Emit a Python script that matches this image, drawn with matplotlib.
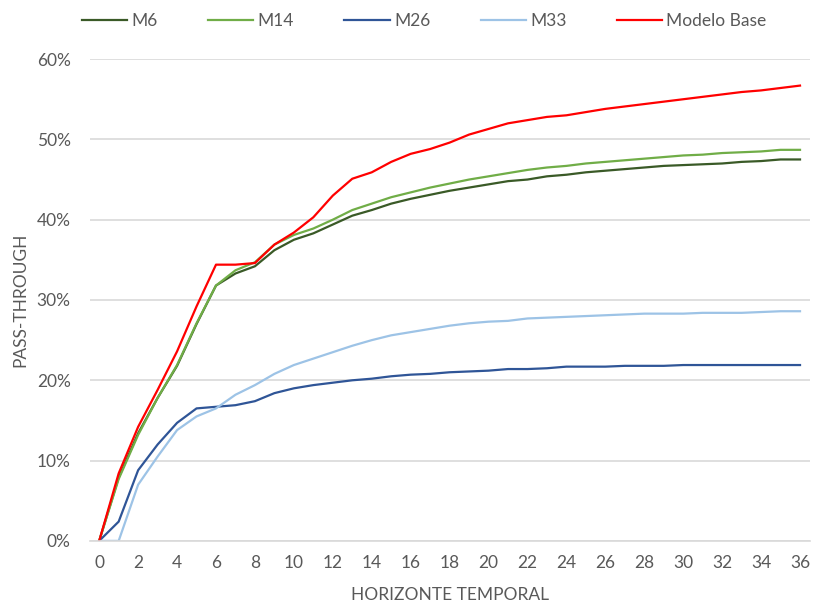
import numpy as np
import matplotlib.pyplot as plt
from matplotlib.ticker import FuncFormatter, MultipleLocator

# horizonte temporal (meses) e pass-through acumulado por modelo
horizonte = list(range(0, 37))

m6 = [0.0, 7.9, 13.4, 17.8, 21.8, 27.0, 31.8, 33.3, 34.2, 36.2, 37.5, 38.3, 39.4,
      40.5, 41.2, 42.0, 42.6, 43.1, 43.6, 44.0, 44.4, 44.8, 45.0, 45.4, 45.6, 45.9,
      46.1, 46.3, 46.5, 46.7, 46.8, 46.9, 47.0, 47.2, 47.3, 47.5, 47.5]

m14 = [0.0, 7.7, 13.2, 17.8, 21.9, 27.1, 31.8, 33.7, 34.7, 36.9, 38.1, 38.9, 40.0,
       41.2, 42.0, 42.8, 43.4, 44.0, 44.5, 45.0, 45.4, 45.8, 46.2, 46.5, 46.7, 47.0,
       47.2, 47.4, 47.6, 47.8, 48.0, 48.1, 48.3, 48.4, 48.5, 48.7, 48.7]

m26 = [0.0, 2.4, 8.8, 12.0, 14.7, 16.5, 16.7, 16.9, 17.4, 18.4, 19.0, 19.4, 19.7,
       20.0, 20.2, 20.5, 20.7, 20.8, 21.0, 21.1, 21.2, 21.4, 21.4, 21.5, 21.7, 21.7,
       21.7, 21.8, 21.8, 21.8, 21.9, 21.9, 21.9, 21.9, 21.9, 21.9, 21.9]

m33 = [0.0, 0.0, 7.0, 10.5, 13.8, 15.5, 16.5, 18.2, 19.4, 20.8, 21.9, 22.7, 23.5,
       24.3, 25.0, 25.6, 26.0, 26.4, 26.8, 27.1, 27.3, 27.4, 27.7, 27.8, 27.9, 28.0,
       28.1, 28.2, 28.3, 28.3, 28.3, 28.4, 28.4, 28.4, 28.5, 28.6, 28.6]

modelo_base = [0.0, 8.4, 14.2, 18.8, 23.6, 29.2, 34.4, 34.4, 34.6, 36.9, 38.4, 40.3, 43.0,
               45.1, 45.9, 47.2, 48.2, 48.8, 49.6, 50.6, 51.3, 52.0, 52.4, 52.8, 53.0, 53.4,
               53.8, 54.1, 54.4, 54.7, 55.0, 55.3, 55.6, 55.9, 56.1, 56.4, 56.7]

series = [("M6", m6, "#3a5a27"),
          ("M14", m14, "#70ad47"),
          ("M26", m26, "#2f5597"),
          ("M33", m33, "#9dc3e6"),
          ("Modelo Base", modelo_base, "#ff0000")]

plt.rcParams["font.family"] = ["Lato", "DejaVu Sans"]

text_color = "#595959"
grid_color = "#d9d9d9"

fig = plt.figure(figsize=(8.13, 6.03), dpi=100)
ax = fig.add_axes([0.111, 0.103, 0.885, 0.799])

for label, values, color in series:
    ax.plot(horizonte, np.array(values) / 100, color=color, lw=1.6, label=label)

ax.set_xlim(-0.46, 36.5)
ax.set_ylim(0, 0.6)
ax.xaxis.set_major_locator(MultipleLocator(2))
ax.yaxis.set_major_locator(MultipleLocator(0.1))
ax.yaxis.set_major_formatter(FuncFormatter(lambda v, _: f"{v * 100:.0f}%"))

ax.grid(axis="y", color=grid_color, lw=1.2)
ax.set_axisbelow(True)
for side in ["top", "right", "left"]:
    ax.spines[side].set_visible(False)
ax.spines["bottom"].set_color(grid_color)
ax.spines["bottom"].set_linewidth(1.2)

ax.tick_params(axis="both", length=0, labelsize=12.5, colors=text_color)
ax.tick_params(axis="x", pad=10)
ax.tick_params(axis="y", pad=14)

ax.set_xlabel("HORIZONTE TEMPORAL", fontsize=12.5, color=text_color, labelpad=12)
ax.set_ylabel("PASS-THROUGH", fontsize=12.5, color=text_color, labelpad=6)

fig.legend(loc="center", bbox_to_anchor=(0.522, 0.965), ncol=5, frameon=False,
           fontsize=12.5, handlelength=2.6, handletextpad=0.25, columnspacing=2.9,
           labelcolor=text_color)

fig.savefig("out.png", dpi=100)
